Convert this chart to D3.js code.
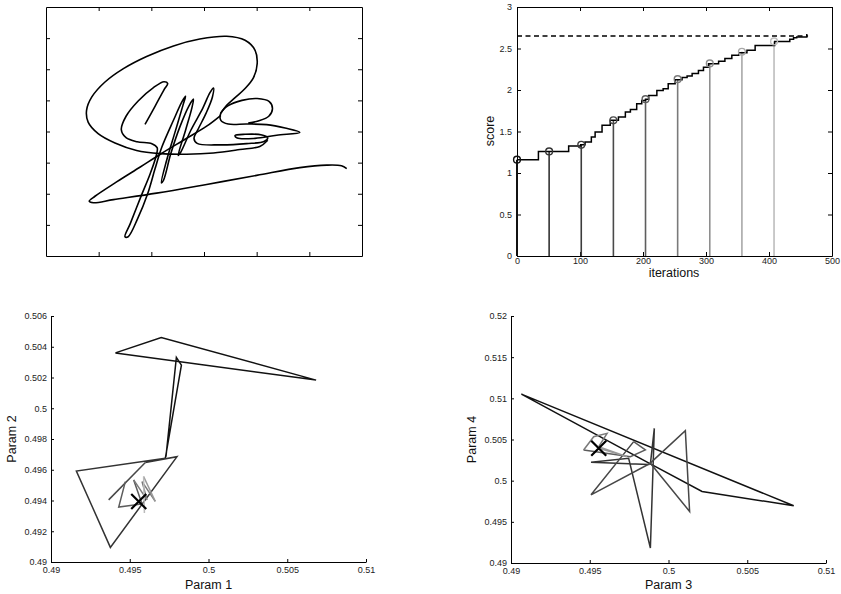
<!DOCTYPE html>
<html>
<head>
<meta charset="utf-8">
<script src="https://cdn.jsdelivr.net/npm/d3@7"></script>
<style>
body { margin: 0; background: #fff; }
svg { display: block; font-family: "Liberation Sans", Arial, sans-serif; }
</style>
</head>
<body>
<svg id="fig" width="841" height="594"></svg>
<script>
// ---- signature (top left), unlabeled units ----
var sigStroke1 = [[1.88,4.23],[2.07,4.81],[2.24,5.34],[2.31,5.54],[2.24,5.60],[2.04,5.41],[1.75,4.98],[1.52,4.49],[1.43,4.06],[1.52,3.80],[1.73,3.67],[2.01,3.61],[2.11,3.48],[2.10,3.27],
  [1.98,2.65],[1.80,1.90],[1.60,1.04],[1.50,0.62],[1.56,0.62],[1.74,1.20],[1.93,2.00],[2.07,2.80],[2.20,3.50],
  [2.42,4.36],[2.58,4.95],[2.65,5.13],[2.60,4.84],[2.45,3.98],[2.29,3.07],[2.19,2.35],[2.23,2.43],[2.37,3.29],[2.54,4.14],[2.72,4.84],[2.80,5.04],
  [2.77,4.76],[2.65,4.04],[2.51,3.23],[2.56,3.34],[2.75,4.04],[2.98,4.76],[3.11,5.24],[3.18,5.40],[3.16,5.11],[3.04,4.59],[2.89,4.08],[2.81,3.78],
  [2.87,3.62],[3.30,3.57],[3.81,3.61],[4.14,3.68],[4.21,3.80],[4.10,3.89],[3.78,3.91],[3.59,3.87],[3.63,3.79],[3.97,3.78],[4.38,3.88],[4.82,3.97],
  [4.54,4.11],[4.19,4.22],[3.81,4.24],[3.46,4.24],[3.32,4.36],[3.32,4.59],[3.46,4.83],[3.72,5.00],[4.01,5.06],[4.24,4.96],[4.30,4.73],[4.23,4.49],[4.03,4.34],[3.84,4.27]];
var sigStroke2 = [[5.71,2.81],[5.61,2.90],[5.33,2.92],[4.82,2.84],[4.00,2.59],[3.05,2.30],[2.10,2.02],[1.28,1.81],[0.90,1.71],[0.82,1.76],[0.93,1.92],
  [1.34,2.38],[1.79,2.86],[2.17,3.27],[2.61,3.72],[3.05,4.17],[3.32,4.52]];
var sigStroke3 = [[4.21,3.72],[4.06,3.52],[3.68,3.42],[3.18,3.31],[2.67,3.27],[2.17,3.29],[1.72,3.39],[1.31,3.63],[0.99,3.93],[0.80,4.30],[0.77,4.68],
  [0.87,5.11],[1.12,5.59],[1.47,6.02],[1.91,6.41],[2.42,6.75],[2.92,6.97],[3.43,7.06],[3.78,6.93],[3.97,6.61],[4.01,6.18],[3.94,5.73],[3.78,5.38],
  [3.59,5.09],[3.43,4.84],[3.32,4.59]];

// ---- score vs iterations (top right) ----
var iterStep  = [0, 34, 82, 101, 108, 118, 124, 135, 148, 161, 172, 180, 190, 198, 204, 209, 222, 232, 240, 251, 262, 270, 278, 288, 296, 304, 320, 330, 341, 352, 365, 378, 409, 433, 439, 444, 460];
var scoreStep = [1.16, 1.26, 1.325, 1.34, 1.375, 1.435, 1.495, 1.575, 1.635, 1.675, 1.735, 1.765, 1.835, 1.875, 1.89, 1.935, 1.995, 2.015, 2.075, 2.125, 2.15, 2.17, 2.2, 2.235, 2.275, 2.315, 2.345, 2.38, 2.42, 2.45, 2.48, 2.535, 2.585, 2.61, 2.63, 2.64, 2.675];
var stemIter  = [0, 51, 102, 153, 204, 255, 306, 357, 408];
var stemScore = [1.16, 1.26, 1.34, 1.635, 1.89, 2.13, 2.32, 2.46, 2.585];
var stemColor = ["#111", "#333", "#3c3c3c", "#4a4a4a", "#5e5e5e", "#7a7a7a", "#8e8e8e", "#a8a8a8", "#bdbdbd"];
var bestScore = 2.65;
var bestIterEnd = 462;

// ---- param 1 / param 2 trajectory (bottom left) ----
var p12Tri  = [[0.49409,0.50360],[0.49700,0.50460],[0.50683,0.50183],[0.49409,0.50360]];
var p12Seg0 = [[0.49730,0.49685],[0.49796,0.50330],[0.49828,0.50280],[0.49726,0.49675]];
var p12Seg1 = [[0.49726,0.49675],[0.49161,0.49592],[0.49377,0.49095],[0.49800,0.49685],[0.49599,0.49647]];
var p12Seg2 = [[0.49599,0.49647],[0.49366,0.49404]];
var p12Seg3 = [[0.49472,0.49523],[0.49430,0.49357],[0.49578,0.49378],[0.49525,0.49534]];
var p12Seg4 = [[0.49525,0.49534],[0.49610,0.49404],[0.49578,0.49523],[0.49662,0.49394]];
var p12Seg5 = [[0.49662,0.49394],[0.49588,0.49556]];
var p12Seg6 = [[0.49588,0.49556],[0.49593,0.49318]];
var p12Best = [0.49557, 0.49394];

// ---- param 3 / param 4 trajectory (bottom right) ----
var p34Seg0 = [[0.49885,0.50203],[0.50213,0.49868],[0.50795,0.49695],[0.49066,0.51051],[0.49885,0.50203]];
var p34Seg1 = [[0.49885,0.50203],[0.49910,0.50635],[0.49885,0.49182],[0.49747,0.50272],[0.49508,0.50223],[0.49874,0.50195]];
var p34Seg2 = [[0.49874,0.50195],[0.50107,0.50607],[0.50134,0.49626],[0.49885,0.50211],[0.49508,0.49828],[0.49779,0.50474]];
var p34Seg3 = [[0.49779,0.50474],[0.49853,0.50373],[0.49758,0.50292],[0.49461,0.50373]];
var p34Seg4 = [[0.49461,0.50373],[0.49525,0.50534],[0.49610,0.50575],[0.49557,0.50413]];
var p34Seg5 = [[0.49557,0.50413],[0.49737,0.50292],[0.49557,0.50393]];
var p34Best = [0.49557, 0.50393];

var segColor = ["#111", "#333", "#474747", "#5c5c5c", "#7a7a7a", "#999", "#bbb"];

var p1Ticks = [0.49, 0.495, 0.5, 0.505, 0.51];
var p2Ticks = [0.49, 0.492, 0.494, 0.496, 0.498, 0.5, 0.502, 0.504, 0.506];
var p4Ticks = [0.49, 0.495, 0.5, 0.505, 0.51, 0.515, 0.52];

var svg = d3.select("#fig");
var fmt = function (d) { return String(+d.toFixed(4)); };

function styleAxis(g) {
  g.attr("font-size", 9).attr("font-family", null);
  g.selectAll("text").attr("fill", "#222");
  g.selectAll("line").attr("stroke", "#000");
  g.select(".domain").attr("stroke", "#000");
}

// ---------------- top left: signature ----------------
var sx = d3.scaleLinear().domain([0, 6]).range([46, 362]);
var sy = d3.scaleLinear().domain([0, 8]).range([256, 7]);

svg.append("g").attr("transform", "translate(0,256)")
  .call(d3.axisBottom(sx).tickValues([1,2,3,4,5]).tickSizeInner(-4).tickSizeOuter(0).tickFormat(""))
  .call(styleAxis);
svg.append("g").attr("transform", "translate(0,7)")
  .call(d3.axisTop(sx).tickValues([1,2,3,4,5]).tickSizeInner(-4).tickSizeOuter(0).tickFormat(""))
  .call(styleAxis);
svg.append("g").attr("transform", "translate(46,0)")
  .call(d3.axisLeft(sy).tickValues([1,2,3,4,5,6,7]).tickSizeInner(-4).tickSizeOuter(0).tickFormat(""))
  .call(styleAxis);
svg.append("g").attr("transform", "translate(362,0)")
  .call(d3.axisRight(sy).tickValues([1,2,3,4,5,6,7]).tickSizeInner(-4).tickSizeOuter(0).tickFormat(""))
  .call(styleAxis);

var sigLine = d3.line().x(function (d) { return sx(d[0]); }).y(function (d) { return sy(d[1]); })
  .curve(d3.curveCatmullRom.alpha(0.5));
[sigStroke1, sigStroke2, sigStroke3].forEach(function (s) {
  svg.append("path").attr("d", sigLine(s)).attr("fill", "none")
    .attr("stroke", "#000").attr("stroke-width", 1.6).attr("stroke-linejoin", "round");
});

// ---------------- top right: score ----------------
var ix = d3.scaleLinear().domain([0, 500]).range([517, 832]);
var iy = d3.scaleLinear().domain([0, 3]).range([256, 7]);
var xT = [0, 100, 200, 300, 400, 500];
var yT = [0, 0.5, 1, 1.5, 2, 2.5, 3];

svg.append("g").attr("transform", "translate(0,256)")
  .call(d3.axisBottom(ix).tickValues(xT).tickSizeInner(-4).tickSizeOuter(0).tickPadding(2).tickFormat(fmt))
  .call(styleAxis);
svg.append("g").attr("transform", "translate(0,7)")
  .call(d3.axisTop(ix).tickValues(xT).tickSizeInner(-4).tickSizeOuter(0).tickFormat(""))
  .call(styleAxis);
svg.append("g").attr("transform", "translate(517,0)")
  .call(d3.axisLeft(iy).tickValues(yT).tickSizeInner(-4).tickSizeOuter(0).tickPadding(5).tickFormat(fmt))
  .call(styleAxis);
svg.append("g").attr("transform", "translate(832,0)")
  .call(d3.axisRight(iy).tickValues(yT).tickSizeInner(-4).tickSizeOuter(0).tickFormat(""))
  .call(styleAxis);

// dashed best score
svg.append("line")
  .attr("x1", ix(0)).attr("x2", ix(bestIterEnd))
  .attr("y1", iy(bestScore)).attr("y2", iy(bestScore))
  .attr("stroke", "#000").attr("stroke-width", 1.5).attr("stroke-dasharray", "5,3.5");

// stems
stemIter.forEach(function (it, i) {
  svg.append("line")
    .attr("x1", ix(it)).attr("x2", ix(it))
    .attr("y1", iy(0)).attr("y2", iy(stemScore[i]))
    .attr("stroke", stemColor[i]).attr("stroke-width", i === 0 ? 2 : 1.6);
});

var stepLine = d3.line()
  .x(function (d, i) { return ix(iterStep[i]); })
  .y(function (d) { return iy(d); })
  .curve(d3.curveStepAfter);
svg.append("path").attr("d", stepLine(scoreStep))
  .attr("fill", "none").attr("stroke", "#000").attr("stroke-width", 1.5);

stemIter.forEach(function (it, i) {
  svg.append("circle")
    .attr("cx", ix(it)).attr("cy", iy(stemScore[i])).attr("r", 3.4)
    .attr("fill", "none").attr("stroke", stemColor[i]).attr("stroke-width", 1.4);
});

svg.append("text").attr("x", 674).attr("y", 277).attr("text-anchor", "middle")
  .attr("font-size", 12.5).attr("fill", "#111").text("iterations");
svg.append("text").attr("transform", "translate(494,131) rotate(-90)").attr("text-anchor", "middle")
  .attr("font-size", 12.5).attr("fill", "#111").text("score");

// ---------------- bottom: parameter trajectories ----------------
function trajPanel(x, y, yTicks, segs, colors, best, xLabel, yLabel, yLabelX) {
  svg.append("g").attr("transform", "translate(0," + y.range()[0] + ")")
    .call(d3.axisBottom(x).tickValues(p1Ticks).tickSizeInner(-3).tickSizeOuter(0).tickPadding(5).tickFormat(fmt))
    .call(styleAxis);
  svg.append("g").attr("transform", "translate(" + x.range()[0] + ",0)")
    .call(d3.axisLeft(y).tickValues(yTicks).tickSizeInner(-3).tickSizeOuter(0).tickPadding(4).tickFormat(fmt))
    .call(styleAxis);

  var line = d3.line().x(function (d) { return x(d[0]); }).y(function (d) { return y(d[1]); });
  segs.forEach(function (s, i) {
    svg.append("path").attr("d", line(s)).attr("fill", "none")
      .attr("stroke", colors[i]).attr("stroke-width", 1.5).attr("stroke-linejoin", "miter");
  });

  var bx = x(best[0]), by = y(best[1]), k = 7.5;
  svg.append("path")
    .attr("d", "M" + (bx - k) + "," + (by - k) + "L" + (bx + k) + "," + (by + k) +
               "M" + (bx - k) + "," + (by + k) + "L" + (bx + k) + "," + (by - k))
    .attr("stroke", "#000").attr("stroke-width", 2.2);

  var cx = (x.range()[0] + x.range()[1]) / 2;
  var cy = (y.range()[0] + y.range()[1]) / 2;
  svg.append("text").attr("x", cx).attr("y", 589).attr("text-anchor", "middle")
    .attr("font-size", 12.5).attr("fill", "#111").text(xLabel);
  svg.append("text").attr("transform", "translate(" + yLabelX + "," + cy + ") rotate(-90)")
    .attr("text-anchor", "middle").attr("font-size", 12.5).attr("fill", "#111").text(yLabel);
}

var p1x = d3.scaleLinear().domain([0.49, 0.51]).range([51, 366]);
var p2y = d3.scaleLinear().domain([0.49, 0.506]).range([562, 316]);
trajPanel(p1x, p2y, p2Ticks,
  [p12Tri, p12Seg0, p12Seg1, p12Seg2, p12Seg3, p12Seg4, p12Seg5, p12Seg6],
  ["#111"].concat(segColor), p12Best, "Param 1", "Param 2", 16);

var p3x = d3.scaleLinear().domain([0.49, 0.51]).range([511, 826]);
var p4y = d3.scaleLinear().domain([0.49, 0.52]).range([563, 316]);
trajPanel(p3x, p4y, p4Ticks, [p34Seg0, p34Seg1, p34Seg2, p34Seg3, p34Seg4, p34Seg5],
  segColor, p34Best, "Param 3", "Param 4", 476);
</script>
</body>
</html>
